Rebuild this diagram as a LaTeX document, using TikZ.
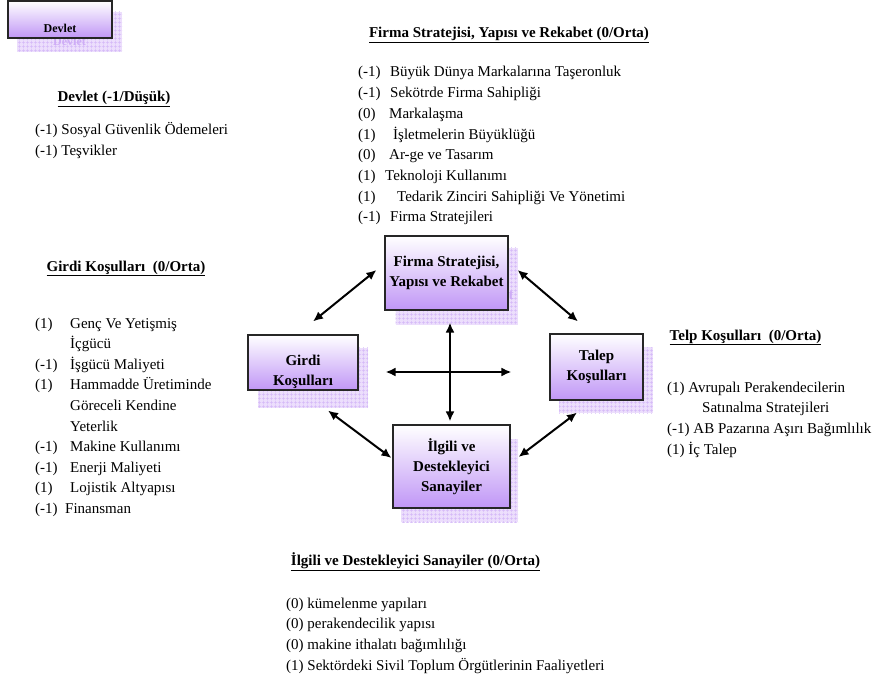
\documentclass[tikz,border=0pt]{standalone}
\usepackage{fontspec}
\setmainfont{Liberation Serif}
\usetikzlibrary{arrows,arrows.meta}
\usetikzlibrary{positioning,calc}
\usetikzlibrary{patterns.meta}
\definecolor{boxpurple}{RGB}{192,150,246}
\definecolor{shadefill}{RGB}{236,222,252}
\definecolor{shadegrid}{RGB}{212,184,248}
\definecolor{shadetext}{RGB}{206,172,246}
\pgfdeclarelayer{background}
\pgfsetlayers{background,main}
\newcommand{\lbl}[2][32pt]{\makebox[#1][l]{#2}}
\tikzset{
    factor/.style={
           rectangle,
           draw=black!85, line width=1.1pt,
           top color=white,
           bottom color=boxpurple,
           inner sep=2pt,
           align=center,
           font=\bfseries\fontsize{15}{20}\selectfont,
           },
    factorshadow/.style={
           rectangle,
           fill=shadefill,
           postaction={pattern={Hatch[angle=0,distance=4pt,line width=0.5pt]},
                       pattern color=shadegrid},
           text=shadetext,
           inner sep=2pt,
           align=center,
           font=\bfseries\fontsize{15}{20}\selectfont,
           },
    heading/.style={
           anchor=base,
           inner sep=0pt,
           font=\bfseries\fontsize{15}{18}\selectfont,
           },
    item/.style={
           anchor=base west,
           inner sep=0pt,
           font=\fontsize{15}{18}\selectfont,
           },
}

\begin{document}
\begin{tikzpicture}
[
x=1pt,y=-1pt,
<->,>={Latex[length=10pt,width=9pt]}
]
 \useasboundingbox (0,0) rectangle (875,682);

 % Devlet box (top left corner)
 \node[factor,
 font=\bfseries\fontsize{12}{14}\selectfont,
 minimum width=104pt, minimum height=37pt,
 text height=30pt, text depth=3pt
 ] (DEVLET) at (60,19.5) {Devlet};

 % the four boxes of the diamond
 \node[factor,
 minimum width=123pt, minimum height=74pt
 ] (FIRMA) at (446.5,273) {Firma Stratejisi,\\ Yapısı ve Rekabet};

 \node[factor,
 minimum width=110pt, minimum height=55pt,
 text height=48pt, text depth=3pt
 ] (GIRDI) at (303,362.5) {Girdi\\ Koşulları};

 \node[factor,
 minimum width=93pt, minimum height=66pt
 ] (TALEP) at (596.5,367) {Talep\\ Koşulları};

 \node[factor,
 minimum width=117pt, minimum height=83pt
 ] (ILGILI) at (451.5,466.5) {İlgili ve\\ Destekleyici\\ Sanayiler};

 % shadows behind the boxes
 \begin{pgfonlayer}{background}
 \node[factorshadow,
 font=\bfseries\fontsize{12}{14}\selectfont,
 minimum width=105pt, minimum height=40pt,
 text height=30pt, text depth=3pt
 ] (DEVLETSH) at ([xshift=9.5pt,yshift=-12.5pt]DEVLET.center) {Devlet};
 \node[factorshadow,
 minimum width=122pt, minimum height=77pt
 ] (FIRMASH) at ([xshift=10pt,yshift=-13pt]FIRMA.center) {Firma Stratejisi,\\ Yapısı ve Rekabet};
 \node[factorshadow,
 minimum width=110pt, minimum height=60pt,
 text height=20pt, text depth=3pt
 ] (GIRDISH) at ([xshift=10pt,yshift=-15pt]GIRDI.center) {Girdi\\ Koşulları};
 \node[factorshadow,
 minimum width=94pt, minimum height=66pt
 ] (TALEPSH) at ([xshift=9.5pt,yshift=-13pt]TALEP.center) {Talep\\ Koşulları};
 \node[factorshadow,
 minimum width=117pt, minimum height=83pt
 ] (ILGILISH) at ([xshift=8pt,yshift=-14pt]ILGILI.center) {İlgili ve\\ Destekleyici\\ Sanayiler};
 \end{pgfonlayer}

 % the arrows between the boxes
 \path[line width=2pt]
 ([xshift=-8pt,yshift=3pt]FIRMA.west) edge ([xshift=10pt,yshift=13pt]GIRDI.north)
 ([xshift=9pt,yshift=3pt]FIRMA.east) edge ([xshift=-18.5pt,yshift=12pt]TALEP.north)
 ([xshift=25pt,yshift=-20pt]GIRDI.south) edge ([xshift=-1pt,yshift=8.5pt]ILGILI.west)
 ([xshift=-19.5pt,yshift=-12pt]TALEP.south) edge ([xshift=8pt,yshift=9.5pt]ILGILI.east)
 ([xshift=3.5pt,yshift=-12pt]FIRMA.south) edge ([xshift=-1.5pt,yshift=3pt]ILGILI.north)
 ([xshift=27pt,yshift=-9.5pt]GIRDI.east) edge ([xshift=-38pt,yshift=-5pt]TALEP.west)
 ;

 % Devlet text
 \node[heading] (DEVLETHEAD) at (114,102) {\underline{Devlet (-1/Düşük)}};
 \foreach \txt [count=\i] in {(-1) Sosyal Güvenlik Ödemeleri, (-1) Teşvikler}
   \node[item] (DEVLET\i) at (35,{114.3+20.7*\i}) {\txt};

 % Firma text
 \node[heading] (FIRMAHEAD) at (509,38) {\underline{Firma Stratejisi, Yapısı ve Rekabet (0/Orta)}};
 \foreach \w/\n/\txt [count=\i] in {
     32/(-1)/Büyük Dünya Markalarına Taşeronluk,
     32/(-1)/Sekötrde Firma Sahipliği,
     31/(0)/Markalaşma,
     35/(1)/İşletmelerin Büyüklüğü,
     31/(0)/Ar-ge ve Tasarım,
     27/(1)/Teknoloji Kullanımı,
     39/(1)/Tedarik Zinciri Sahipliği Ve Yönetimi,
     32/(-1)/Firma Stratejileri}
   \node[item] (FIRMA\i) at (358,{56.3+20.7*\i}) {\lbl[\w pt]{\n}\txt};

 % Girdi text
 \node[heading] (GIRDIHEAD) at (126,271) {\underline{Girdi Koşulları \ (0/Orta)}};
 \foreach \w/\n/\txt [count=\i] in {
     35/(1)/Genç Ve Yetişmiş,
     35//İçgücü,
     35/(-1)/İşgücü Maliyeti,
     35/(1)/Hammadde Üretiminde,
     35//Göreceli Kendine,
     35//Yeterlik,
     35/(-1)/Makine Kullanımı,
     35/(-1)/Enerji Maliyeti,
     35/(1)/Lojistik Altyapısı,
     30/(-1)/Finansman}
   \node[item] (GIRDI\i) at (35,{307.4+20.6*\i}) {\lbl[\w pt]{\n}\txt};

 % Talep text
 \node[heading] (TALEPHEAD) at (745.5,340) {\underline{Telp Koşulları \ (0/Orta)}};
 \node[item] (TALEP1) at (667,392) {(1) Avrupalı Perakendecilerin};
 \node[item] (TALEP2) at (702,412.7) {Satınalma Stratejileri};
 \node[item] (TALEP3) at (667,433.4) {(-1) AB Pazarına Aşırı Bağımlılık};
 \node[item] (TALEP4) at (667,454.1) {(1) İç Talep};

 % Ilgili text
 \node[heading] (ILGILIHEAD) at (415.5,565) {\underline{İlgili ve Destekleyici Sanayiler (0/Orta)}};
 \foreach \txt [count=\i] in {(0) kümelenme yapıları, (0) perakendecilik yapısı,
     (0) makine ithalatı bağımlılığı, (1) Sektördeki Sivil Toplum Örgütlerinin Faaliyetleri}
   \node[item] (ILGILI\i) at (286,{587.3+20.7*\i}) {\txt};

\end{tikzpicture}
\end{document}
